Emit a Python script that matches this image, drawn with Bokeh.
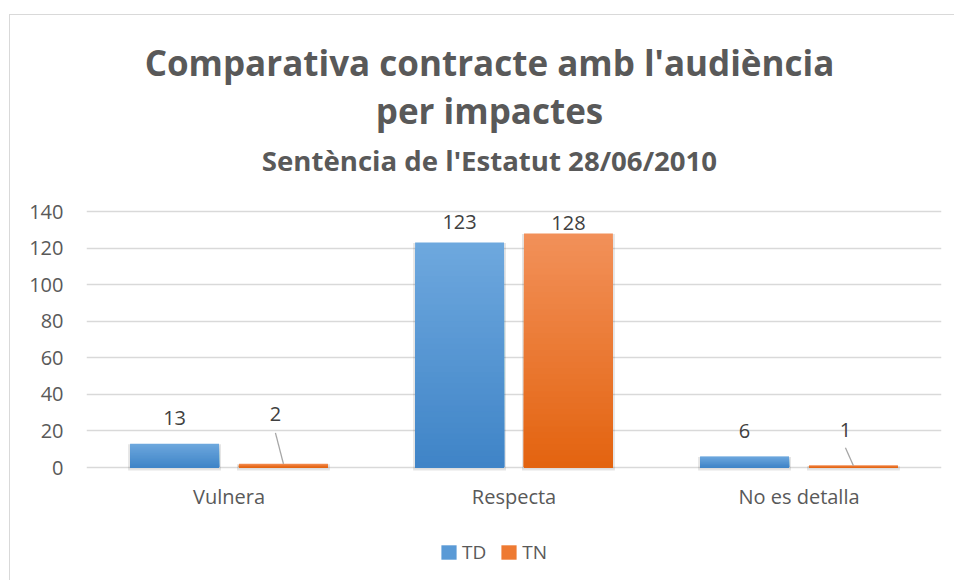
import numpy as np
from bokeh.plotting import figure
from bokeh.models import (ColumnDataSource, Range1d, FixedTicker, Legend, LegendItem)
from bokeh.core.properties import value
from bokeh.embed import file_html
from bokeh.resources import INLINE

# ---------------- data ----------------
categories = ["Vulnera", "Respecta", "No es detalla"]
series_names = ["TD", "TN"]
td_values = [13, 123, 6]
tn_values = [2, 128, 1]
y_ticks = [0, 20, 40, 60, 80, 100, 120, 140]
title_lines = ["Comparativa contracte amb l'audiència", "per impactes"]
subtitle = "Sentència de l'Estatut 28/06/2010"

# ---------------- style ----------------
FONT = "Open Sans"
GRAY = "#595959"
LABEL_GRAY = "#404040"
GRID = "#d9d9d9"
BAR_W = 0.312
DODGE = 0.191
grad = {"TD": ("#6ea8de", "#3f84c7"), "TN": ("#f2915a", "#e3630f")}
legend_col = {"TD": "#5a9ad6", "TN": "#ee7a32"}
# label screen offsets (style only): (dx px, label centre px above bar top, leader px or 0)
label_style = {
    "TD": [(0, 25, 0), (0, 20, 0), (0, 25, 0)],
    "TN": [(-8, 49, 31), (0, 9.5, 0), (-8, 35, 18)],
}
# title screen offsets from the top gridline (px, negative = up) and horizontal shift
TITLE_DY = [-149.5, -101.5]
SUB_DY = -51.5
TITLE_DX = -24.5

W, H = 945, 566
LEFT, RIGHT = 76, 14
TOP_GRID = 196              # px from figure top to the 140 gridline
FRAME_H_DATA = 256          # px between 0 and 140
Y0, Y1 = 0, 140
px_per_unit = FRAME_H_DATA / (Y1 - Y0)
y_start = -(H - TOP_GRID - FRAME_H_DATA) / px_per_unit   # room below zero
y_end = Y1 + TOP_GRID / px_per_unit                       # room above for titles
px_per_cat = (W - LEFT - RIGHT) / len(categories)

p = figure(width=W, height=H, output_backend="svg", toolbar_location=None,
           x_range=Range1d(0, len(categories)), y_range=Range1d(y_start, y_end),
           min_border_left=LEFT, min_border_right=RIGHT,
           min_border_top=0, min_border_bottom=0,
           background_fill_color="white", border_fill_color="white")
p.title.text = ""
p.outline_line_color = None
p.margin = (14, 0, 0, 9)
p.styles = {"border-top": "1px solid #d9d9d9", "border-left": "1px solid #d9d9d9"}

mid_x = len(categories) / 2
# titles
p.text(x=[mid_x] * len(title_lines), y=[Y1] * len(title_lines), text=title_lines,
       x_offset=TITLE_DX, y_offset=TITLE_DY, text_align="center", text_baseline="alphabetic",
       text_font=value(FONT), text_font_size="35px", text_font_style="bold", text_color=GRAY)
p.text(x=[mid_x], y=[Y1], text=[subtitle], x_offset=TITLE_DX, y_offset=SUB_DY,
       text_align="center", text_baseline="alphabetic",
       text_font=value(FONT), text_font_size="27.6px", text_font_style="bold", text_color=GRAY)

# bars with a vertical gradient: nested bars, tallest first
N = 40
def hex2rgb(h):
    h = h.lstrip("#")
    return np.array([int(h[i:i + 2], 16) for i in (0, 2, 4)], dtype=float)

legend_items = []
for s_idx, (name, vals) in enumerate(zip(series_names, [td_values, tn_values])):
    sign = -1 if s_idx == 0 else 1
    xcs = [i + 0.5 + sign * DODGE for i in range(len(vals))]
    # soft shadow
    p.vbar(x=xcs, bottom=-3 / px_per_unit, top=[v - 0.5 / px_per_unit for v in vals],
           width=BAR_W + 4 / px_per_cat, fill_color="#000000", fill_alpha=0.10, line_color=None)
    top_c, bot_c = hex2rgb(grad[name][0]), hex2rgb(grad[name][1])
    xs, tops, cols = [], [], []
    for k in range(N - 1, -1, -1):
        t = (k + 0.5) / N
        c = bot_c + (top_c - bot_c) * t
        col = "#%02x%02x%02x" % tuple(int(round(u)) for u in c)
        for xc, v in zip(xcs, vals):
            xs.append(xc)
            tops.append(v * (k + 1) / N)
            cols.append(col)
    src = ColumnDataSource(dict(x=xs, top=tops, color=cols))
    p.vbar(x="x", bottom=0, top="top", width=BAR_W, source=src,
           fill_color="color", line_color=None)
    # legend proxy renderer (no visible data)
    r = p.quad(left=[np.nan], right=[np.nan], bottom=[np.nan], top=[np.nan],
               fill_color=legend_col[name], line_color=None)
    legend_items.append(LegendItem(label=name, renderers=[r]))

    # data labels
    lt, xo, yo = [], [], []
    seg = dict(x0=[], y0=[], x1=[], y1=[])
    for i, v in enumerate(vals):
        dx, dy, lead = label_style[name][i]
        lt.append(str(v))
        xo.append(dx)
        yo.append(-(dy + 1))
        if lead:
            seg["x0"].append(xcs[i])
            seg["y0"].append(v)
            seg["x1"].append(xcs[i] + dx / px_per_cat)
            seg["y1"].append(v + lead / px_per_unit)
    p.text(x=xcs, y=vals, text=lt, x_offset=xo, y_offset=yo, text_align="center",
           text_baseline="alphabetic", text_font_size="20px", text_color=LABEL_GRAY,
           text_font=value(FONT))
    if seg["x0"]:
        p.segment(x0="x0", y0="y0", x1="x1", y1="y1", source=ColumnDataSource(seg),
                  line_color="#a6a6a6", line_width=1.3)

# category labels (below the zero line)
p.text(x=[i + 0.5 for i in range(len(categories))], y=[0] * len(categories), text=categories,
       y_offset=29, text_align="center", text_baseline="alphabetic",
       text_font_size="20px", text_color=GRAY, text_font=value(FONT))

# axes
p.yaxis.ticker = FixedTicker(ticks=y_ticks)
p.yaxis.axis_line_color = None
p.yaxis.major_tick_line_color = None
p.yaxis.minor_tick_line_color = None
p.yaxis.major_tick_out = 0
p.yaxis.major_tick_in = 0
p.yaxis.major_label_text_font = FONT
p.yaxis.major_label_text_font_size = "20px"
p.yaxis.major_label_text_color = GRAY
p.yaxis.major_label_standoff = 23
p.xaxis.visible = False

p.xgrid.grid_line_color = None
p.ygrid.ticker = FixedTicker(ticks=y_ticks)
p.ygrid.grid_line_color = GRID
p.ygrid.grid_line_width = 1.3

legend = Legend(items=legend_items, orientation="horizontal", location=(353, 16),
                border_line_color=None, background_fill_alpha=0,
                label_text_font=FONT, label_text_font_size="19px", label_text_color=GRAY,
                glyph_width=19, glyph_height=18, label_height=18, label_standoff=4, spacing=13,
                margin=0, padding=0)
p.add_layout(legend, "center")

open("out.html", "w").write(file_html(p, INLINE))
